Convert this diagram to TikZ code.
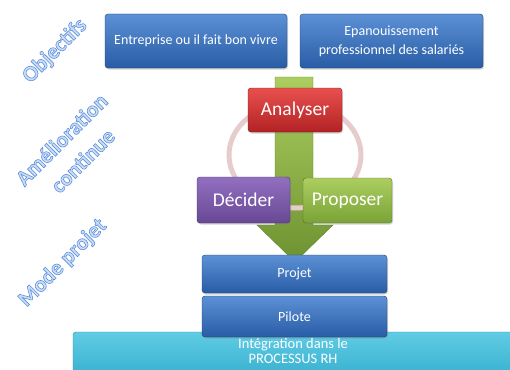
\documentclass[tikz,border=0pt]{standalone}
\usepackage{fontspec}
\setmainfont{Carlito}
\usetikzlibrary{shadows}

\definecolor{bluetop}{RGB}{92,145,214}
\definecolor{bluebot}{RGB}{40,92,165}
\definecolor{redtop}{RGB}{232,80,78}
\definecolor{redbot}{RGB}{178,34,36}
\definecolor{purtop}{RGB}{146,112,192}
\definecolor{purbot}{RGB}{104,72,148}
\definecolor{grntop}{RGB}{172,206,96}
\definecolor{grnbot}{RGB}{122,162,54}
\definecolor{cyantop}{RGB}{96,204,228}
\definecolor{cyanbot}{RGB}{44,168,202}
\definecolor{ringcol}{RGB}{230,204,204}
\definecolor{artfill}{RGB}{204,222,247}

% outlined word-art text
\newcommand{\wordart}[1]{\special{pdf:literal direct 2 Tr 0.6 w 0.36 0.56 0.86 RG}#1\special{pdf:literal direct 0 Tr}}

\tikzset{
  box/.style={rounded corners=3pt, text=white, align=center, inner sep=2pt,
    drop shadow={opacity=0.35,shadow xshift=1pt,shadow yshift=-1.5pt}},
  bluebox/.style={box, top color=bluetop, bottom color=bluebot, draw=bluebot!70!black,
    font=\fontsize{14}{19}\selectfont},
  stepbox/.style={box, draw=#1bot!70!black, top color=#1top, bottom color=#1bot,
    font=\fontsize{19.5}{22}\selectfont},
  artlabel/.style={rotate=45, text=artfill, align=center,
    font=\fontsize{22}{30}\selectfont\bfseries},
}

\begin{document}
\begin{tikzpicture}[x=1pt,y=-1pt]
  \useasboundingbox (0,0) rectangle (510,369);
  \clip (0,0) rectangle (510,369);

  % objectifs
  \node[bluebox, minimum width=182pt, minimum height=54pt] (vivre) at (196,41) {Entreprise ou il fait bon vivre};
  \node[bluebox, minimum width=183pt, minimum height=54pt] (epanou) at (391.5,41) {Epanouissement\\professionnel des salariés};

  % fleche verte
  \draw[top color=grntop, bottom color=grnbot!90!black, draw=grnbot!80!black]
    (275,77) -- (313,77) -- (313,225) -- (333,225) -- (295,262) -- (257,225) -- (275,225) -- cycle;

  % cycle
  \draw[ringcol, line width=5pt] (295,155) ellipse [x radius=66, y radius=53];

  \node[stepbox=red, minimum width=94pt, minimum height=44pt] (analyser) at (295,110) {Analyser};
  \node[stepbox=pur, minimum width=93pt, minimum height=46pt] (decider) at (243.5,200) {Décider};
  \node[stepbox=grn, minimum width=89pt, minimum height=45pt] (proposer) at (347.5,200.5) {Proposer};

  % mode projet
  \draw[top color=cyantop, bottom color=cyanbot, draw=cyanbot!80!black, rounded corners=3pt]
    (73,332) rectangle (530,390);
  \node[bluebox, minimum width=185pt, minimum height=38pt] (projet) at (294.5,274) {Projet};
  \node[bluebox, minimum width=185pt, minimum height=41pt] (pilote) at (294.5,316.5) {Pilote};
  \node[text=white, align=center, inner sep=0pt, font=\fontsize{14.5}{15}\selectfont] (integ) at (293,351) {Intégration dans le\\PROCESSUS RH};

  % libelles
  \node[artlabel] (obj) at (55,51) {\wordart{Objectifs}};
  \node[artlabel] (amelio) at (72,150) {\wordart{Amélioration}\\\wordart{continue}};
  \node[artlabel] (mode) at (63,263) {\wordart{Mode projet}};
\end{tikzpicture}
\end{document}
